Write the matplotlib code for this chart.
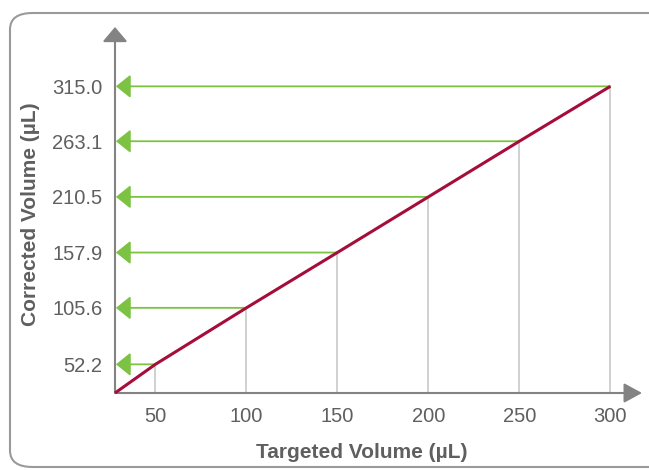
import matplotlib.pyplot as plt
from matplotlib.patches import FancyBboxPatch

# targeted vs corrected volume (uL)
targeted = [50, 100, 150, 200, 250, 300]
corrected = [52.2, 105.6, 157.9, 210.5, 263.1, 315.0]
y_labels = ['52.2', '105.6', '157.9', '210.5', '263.1', '315.0']

green = '#7cc243'
red = '#a50d3a'
axis_gray = '#838383'
text_gray = '#5f5f5f'

plt.rcParams['font.family'] = ['Liberation Sans', 'DejaVu Sans']

fig = plt.figure(figsize=(6.49, 4.70), dpi=100)

# rounded border, right side runs off the canvas
border = FancyBboxPatch((10 / 649, 3 / 470), 700 / 649, 454 / 470,
                        boxstyle='round,pad=0,rounding_size=0.035',
                        transform=fig.transFigure, fill=False,
                        edgecolor='#9a9a9a', lw=1.5)
fig.patches.append(border)

ax = fig.add_axes([115 / 649, 77 / 470, 527 / 649, 366 / 470])
x0, x1 = 27.8, 317.4
y0, y1 = 25.1, 371.1
ax.set_xlim(x0, x1)
ax.set_ylim(y0, y1)

for s in ax.spines.values():
    s.set_visible(False)

# axes drawn as arrows
ax.annotate('', xy=(1, 0), xytext=(0, 0), xycoords='axes fraction',
            arrowprops=dict(arrowstyle='-|>,head_length=0.55,head_width=0.3',
                            color=axis_gray, lw=1.5, shrinkA=0, shrinkB=0,
                            mutation_scale=20))
ax.annotate('', xy=(0, 1), xytext=(0, 0), xycoords='axes fraction',
            arrowprops=dict(arrowstyle='-|>,head_length=0.45,head_width=0.38',
                            color=axis_gray, lw=1.5, shrinkA=0, shrinkB=0,
                            mutation_scale=20))

# vertical guides and green arrows to the y axis
for x, y in zip(targeted, corrected):
    ax.plot([x, x], [y0, y], color='#c8c8c8', lw=1.2, zorder=1)
    ax.annotate('', xy=(x0 + 0.5, y), xytext=(x, y), xycoords='data',
                arrowprops=dict(arrowstyle='-|>,head_length=0.5,head_width=0.4',
                                color=green, lw=1.3, shrinkA=0, shrinkB=0,
                                mutation_scale=18), zorder=2)

# red line from the corner through the points
ax.plot([x0] + targeted, [y0] + corrected, color=red, lw=2.2,
        solid_capstyle='butt', zorder=3, clip_on=False)

ax.set_xticks(targeted)
ax.set_xticklabels([str(t) for t in targeted])
ax.set_yticks(corrected)
ax.set_yticklabels(y_labels)
ax.tick_params(length=0, labelsize=14.5, colors=text_gray)
ax.tick_params(axis='x', pad=10)
ax.tick_params(axis='y', pad=9)

ax.set_xlabel('Targeted Volume (µL)', fontsize=15, fontweight='bold',
              color=text_gray)
ax.set_ylabel('Corrected Volume (µL)', fontsize=15, fontweight='bold',
              color=text_gray)
ax.xaxis.set_label_coords((362 - 115) / 527, -(452 - 393) / 366)
ax.yaxis.set_label_coords(-(115 - 31) / 527, (393 - 214) / 366)
ax.xaxis.label.set_va('center')
ax.yaxis.label.set_va('center')

fig.savefig('out.png', dpi=100)
